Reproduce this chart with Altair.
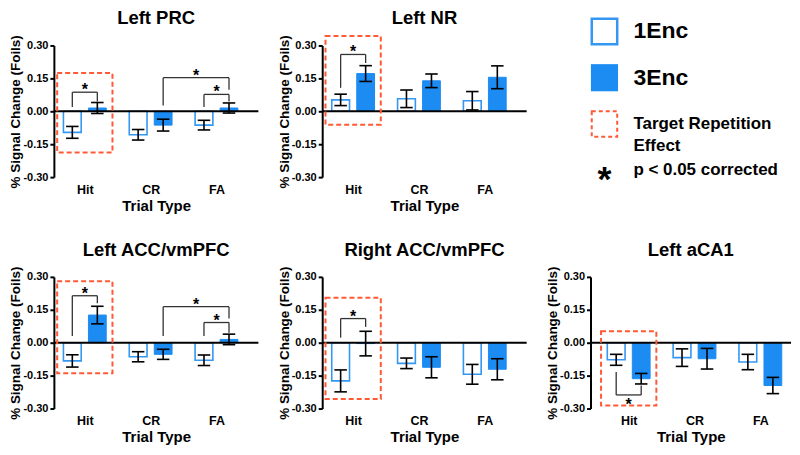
import altair as alt
import pandas as pd

# ---------------- data ----------------
trial_types = ["Hit", "CR", "FA"]
series_names = ["1Enc", "3Enc"]
y_ticks = [-0.30, -0.15, 0.00, 0.15, 0.30]

panel_titles = ["Left PRC", "Left NR", "Left ACC/vmPFC", "Right ACC/vmPFC", "Left aCA1"]

prc_1enc = [-0.096, -0.107, -0.063]
prc_1enc_se = [0.027, 0.024, 0.022]
prc_3enc = [0.015, -0.063, 0.015]
prc_3enc_se = [0.025, 0.027, 0.023]

nr_1enc = [0.052, 0.057, 0.048]
nr_1enc_se = [0.026, 0.040, 0.042]
nr_3enc = [0.172, 0.139, 0.155]
nr_3enc_se = [0.036, 0.031, 0.052]

lacc_1enc = [-0.083, -0.064, -0.080]
lacc_1enc_se = [0.028, 0.023, 0.024]
lacc_3enc = [0.126, -0.053, 0.015]
lacc_3enc_se = [0.040, 0.023, 0.024]

racc_1enc = [-0.174, -0.094, -0.144]
racc_1enc_se = [0.050, 0.024, 0.045]
racc_3enc = [-0.004, -0.112, -0.121]
racc_3enc_se = [0.056, 0.048, 0.048]

aca1_1enc = [-0.078, -0.068, -0.088]
aca1_1enc_se = [0.025, 0.040, 0.035]
aca1_3enc = [-0.164, -0.073, -0.195]
aca1_3enc_se = [0.024, 0.047, 0.037]

# significance brackets: (trial_a, series_a, trial_b, series_b, bar_y, end_a, end_b, side)
prc_brackets = [("Hit", "1Enc", "Hit", "3Enc", 0.087, 0.020, 0.045, "above"),
                ("CR", "3Enc", "FA", "3Enc", 0.153, 0.026, 0.098, "above"),
                ("FA", "1Enc", "FA", "3Enc", 0.077, 0.020, 0.045, "above")]
nr_brackets = [("Hit", "1Enc", "Hit", "3Enc", 0.259, 0.107, 0.220, "above")]
lacc_brackets = [("Hit", "1Enc", "Hit", "3Enc", 0.214, 0.030, 0.180, "above"),
                 ("CR", "3Enc", "FA", "3Enc", 0.164, 0.030, 0.110, "above"),
                 ("FA", "1Enc", "FA", "3Enc", 0.092, 0.030, 0.045, "above")]
racc_brackets = [("Hit", "1Enc", "Hit", "3Enc", 0.110, 0.023, 0.072, "above")]
aca1_brackets = [("Hit", "1Enc", "Hit", "3Enc", -0.238, -0.134, -0.195, "below")]

# target repetition effect boxes: (trial, top, bottom)
prc_box = ("Hit", 0.174, -0.188)
nr_box = ("Hit", 0.343, -0.061)
lacc_box = ("Hit", 0.280, -0.139)
racc_box = ("Hit", 0.205, -0.256)
aca1_box = ("Hit", 0.052, -0.286)

legend_keys = ["1Enc", "3Enc", "box", "sig"]
legend_labels = ["1Enc", "3Enc", "Target Repetition\nEffect", "p < 0.05 corrected"]

# ---------------- style ----------------
FONT = "Liberation Sans"
BLUE = "#1C8CF2"
BLUE_LINE = "#3497F2"
RED = "#FF5A36"
OFF = 0.19      # bar offset from group centre (x units)
HALF = 0.135    # half bar width
CAP = 0.095     # half cap width
BOXHALF = 0.42
PXU = 66.0      # pixels per x unit
H = 132


def pos(trial, series):
    return trial_types.index(trial) + 1 + (-OFF if series == series_names[0] else OFF)


def panel(title, m1, s1, m3, s3, brackets, box, width, x0=0.53):
    xscale = alt.Scale(domain=[x0, x0 + width / PXU], nice=False, zero=False)
    yscale = alt.Scale(domain=[-0.3, 0.3], nice=False, zero=False)
    label_expr = "[" + ",".join("'%s'" % t for t in trial_types) + "][datum.value - 1]"
    xaxis = alt.Axis(values=[1, 2, 3], labelExpr=label_expr, domain=False, ticks=False,
                     tickSize=0, grid=False, labelFontSize=12.5, labelFontWeight="bold",
                     labelColor="black", labelPadding=6, title="Trial Type",
                     titleFontSize=15, titleFontWeight="bold", titleColor="black",
                     titlePadding=3)
    yaxis = alt.Axis(values=y_ticks,
                     labelExpr="(datum.value < 0 ? '-' : '') + format(abs(datum.value), '.2f')",
                     grid=False, domainColor="black",
                     domainWidth=2, tickColor="black", tickWidth=2, tickSize=4,
                     labelFontSize=11, labelFontWeight="bold", labelColor="black",
                     labelPadding=2, title="% Signal Change (Foils)", titleFontSize=13.5,
                     titleFontWeight="bold", titleColor="black", titlePadding=0)

    def X(f):
        return alt.X(f, type="quantitative", scale=xscale, axis=xaxis, title="Trial Type")

    def Y(f):
        return alt.Y(f, type="quantitative", scale=yscale, axis=yaxis,
                     title="% Signal Change (Foils)")

    rows = []
    for i, t in enumerate(trial_types):
        for ser, m, s in ((series_names[0], m1[i], s1[i]), (series_names[1], m3[i], s3[i])):
            p = pos(t, ser)
            rows.append(dict(trial=t, series=ser, pos=p, x1=p - HALF, x2=p + HALF,
                             mean=m, lo=m - s, hi=m + s, c1=p - CAP, c2=p + CAP, zero=0.0))
    df = pd.DataFrame(rows)

    brows = []
    for ta, sa, tb, sb, yb, ea, eb, side in brackets:
        xa, xb = pos(ta, sa), pos(tb, sb)
        brows.append(dict(xa=xa, xb=xb, xm=(xa + xb) / 2, yb=yb, ea=ea, eb=eb, side=side,
                          star="*"))
    bdf = pd.DataFrame(brows)

    bt = trial_types.index(box[0]) + 1
    boxdf = pd.DataFrame([dict(bx1=bt - BOXHALF, bx2=bt + BOXHALF, btop=box[1], bbot=box[2])])
    zdf = pd.DataFrame({"zero": [0.0]})

    base = alt.Chart(df)
    bars1 = base.transform_filter(alt.datum.series == series_names[0]).mark_rect(
        fill="white", stroke=BLUE_LINE, strokeWidth=1.6).encode(
        x=X("x1"), x2="x2", y=Y("mean"), y2="zero")
    bars3 = base.transform_filter(alt.datum.series == series_names[1]).mark_rect(
        fill=BLUE, stroke=BLUE, strokeWidth=1).encode(
        x=X("x1"), x2="x2", y=Y("mean"), y2="zero")
    zero = alt.Chart(zdf).mark_rule(color="black", strokeWidth=2).encode(
        y=Y("zero"), x=alt.value(0), x2=alt.value(width))
    err = base.mark_rule(color="black", strokeWidth=1.6).encode(x=X("pos"), y=Y("lo"), y2="hi")
    cap_lo = base.mark_rule(color="black", strokeWidth=1.6).encode(x=X("c1"), x2="c2", y=Y("lo"))
    cap_hi = base.mark_rule(color="black", strokeWidth=1.6).encode(x=X("c1"), x2="c2", y=Y("hi"))
    boxm = alt.Chart(boxdf).mark_rect(fillOpacity=0, stroke=RED, strokeWidth=2,
                                      strokeDash=[5, 3]).encode(
        x=X("bx1"), x2="bx2", y=Y("btop"), y2="bbot")
    bch = alt.Chart(bdf)
    bh = bch.mark_rule(color="#333333", strokeWidth=1.3).encode(x=X("xa"), x2="xb", y=Y("yb"))
    bl = bch.mark_rule(color="#333333", strokeWidth=1.3).encode(x=X("xa"), y=Y("yb"), y2="ea")
    br = bch.mark_rule(color="#333333", strokeWidth=1.3).encode(x=X("xb"), y=Y("yb"), y2="eb")
    star_up = bch.transform_filter(alt.datum.side == "above").mark_text(
        fontSize=16, fontWeight="bold", color="black", baseline="alphabetic", dy=3).encode(
        x=X("xm"), y=Y("yb"), text="star:N")
    star_dn = bch.transform_filter(alt.datum.side == "below").mark_text(
        fontSize=16, fontWeight="bold", color="black", baseline="alphabetic", dy=15).encode(
        x=X("xm"), y=Y("yb"), text="star:N")

    layers = [bars1, bars3, zero, err, cap_lo, cap_hi, boxm, bh, bl, br, star_up]
    if (bdf["side"] == "below").any():
        layers.append(star_dn)
    return alt.layer(*layers).properties(
        width=width, height=H,
        title=alt.TitleParams(title, fontSize=18.5, fontWeight="bold", color="black",
                              frame="group", anchor="middle", offset=7))


# ---------------- legend ----------------
ldf = pd.DataFrame({"key": legend_keys, "label": legend_labels})
ly = alt.Y("key:N", scale=alt.Scale(domain=legend_keys, type="point", padding=0,
                                    range=[-14, 125]), axis=None)
lbase = alt.Chart(ldf)
sym1 = lbase.transform_filter(alt.datum.key == legend_keys[0]).mark_point(
    shape="square", size=650, filled=False, stroke=BLUE_LINE, strokeWidth=2.5, opacity=1).encode(
    y=ly, x=alt.value(60))
sym3 = lbase.transform_filter(alt.datum.key == legend_keys[1]).mark_point(
    shape="square", size=740, filled=True, fill=BLUE, opacity=1).encode(
    y=ly, x=alt.value(60))
symb = lbase.transform_filter(alt.datum.key == legend_keys[2]).mark_point(
    shape="square", size=650, filled=False, stroke=RED, strokeWidth=2, strokeDash=[4, 3],
    opacity=1).encode(y=ly, x=alt.value(60))
syms = lbase.transform_filter(alt.datum.key == legend_keys[3]).mark_text(
    text="*", fontSize=36, fontWeight="bold", color="black", baseline="middle", dy=10).encode(
    y=ly, x=alt.value(60))
big_txt = lbase.transform_filter(
    (alt.datum.key == legend_keys[0]) | (alt.datum.key == legend_keys[1])).mark_text(
    align="left", baseline="middle", fontSize=23, fontWeight="bold", color="black").encode(
    y=ly, x=alt.value(89), text="label:N")
small_txt = lbase.transform_filter(
    (alt.datum.key == legend_keys[2]) | (alt.datum.key == legend_keys[3])).mark_text(
    align="left", baseline="middle", fontSize=17, fontWeight="bold", color="black",
    lineBreak="\n", lineHeight=22).encode(y=ly, x=alt.value(89), text="label:N")
legend = alt.layer(sym1, sym3, symb, syms, big_txt, small_txt).properties(width=240, height=H)

# ---------------- layout ----------------
p1 = panel(panel_titles[0], prc_1enc, prc_1enc_se, prc_3enc, prc_3enc_se, prc_brackets, prc_box, 205)
p2 = panel(panel_titles[1], nr_1enc, nr_1enc_se, nr_3enc, nr_3enc_se, nr_brackets, nr_box, 205)
p4 = panel(panel_titles[2], lacc_1enc, lacc_1enc_se, lacc_3enc, lacc_3enc_se, lacc_brackets, lacc_box, 205)
p5 = panel(panel_titles[3], racc_1enc, racc_1enc_se, racc_3enc, racc_3enc_se, racc_brackets, racc_box, 205)
p6 = panel(panel_titles[4], aca1_1enc, aca1_1enc_se, aca1_3enc, aca1_3enc_se, aca1_brackets, aca1_box, 201,
           x0=0.42)

top = alt.hconcat(p1, p2, legend, spacing=17)
bottom = alt.hconcat(p4, p5, p6, spacing=17)
chart = alt.vconcat(top, bottom, spacing=26).properties(padding=0).configure(
    font=FONT, padding=0).configure_view(stroke=None)

chart.save("out.html", embed_options={"renderer": "svg", "actions": False})
